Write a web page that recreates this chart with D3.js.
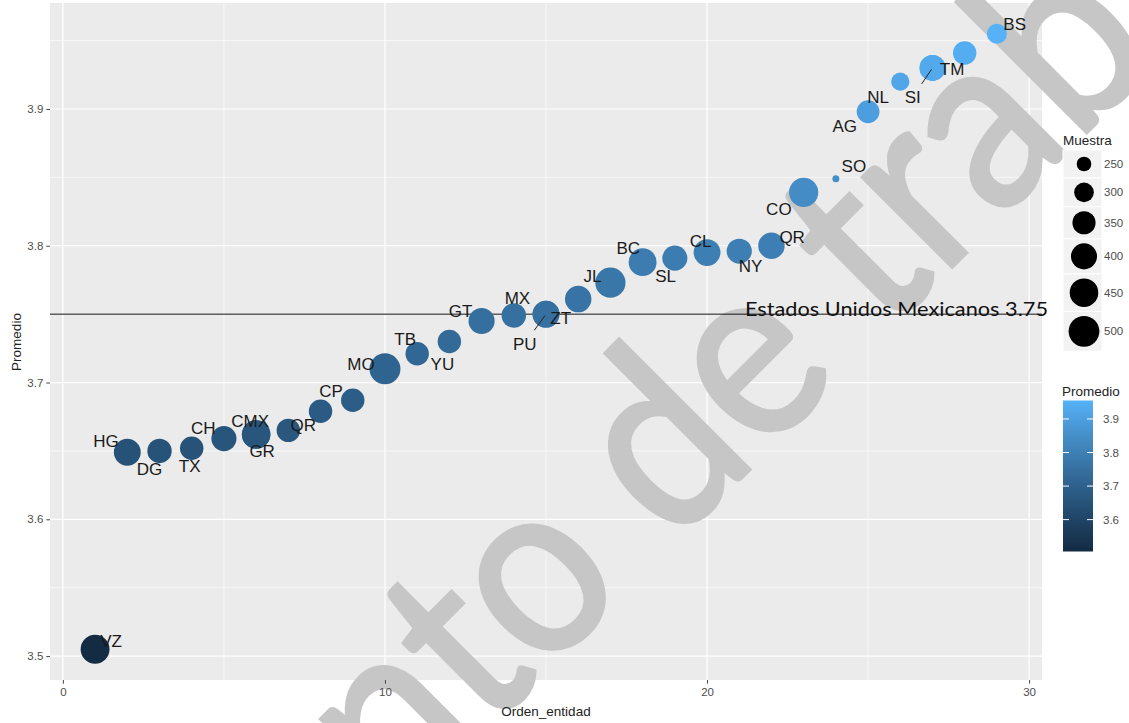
<!DOCTYPE html>
<html>
<head>
<meta charset="utf-8">
<script src="https://cdn.jsdelivr.net/npm/d3@7"></script>
<style>
  html, body { margin: 0; padding: 0; background: #fff; }
  svg { display: block; font-family: "Liberation Sans", Arial, sans-serif; }
</style>
</head>
<body>
<svg id="chart" width="1129" height="723"></svg>
<script>
// ─── Data ─────────────────────────────────────────────────────────────────────

const ORDEN    = [1, 2, 3, 4, 5, 6, 6, 7, 8, 9, 10, 11, 12, 13, 14, 15, 15, 16,
                  17, 18, 19, 20, 21, 22, 23, 24, 25, 26, 27, 27, 28, 29];
const ENTIDAD  = ["VZ", "HG", "DG", "TX", "CH", "CMX", "GR", "QR", "CP", null, "MO", "TB",
                  "YU", "GT", "MX", "PU", "ZT", null, "JL", "BC", "SL", "CL", "NY", "QR",
                  "CO", "SO", "AG", "NL", "SI", "TM", null, "BS"];
const PROMEDIO = [3.505, 3.649, 3.650, 3.652, 3.659, 3.662, 3.662, 3.665, 3.679, 3.687,
                  3.710, 3.721, 3.730, 3.745, 3.749, 3.750, 3.750, 3.761, 3.773, 3.788,
                  3.791, 3.795, 3.796, 3.800, 3.839, 3.849, 3.898, 3.920, 3.930, 3.930,
                  3.941, 3.955];
const MUESTRA  = [457, 415, 371, 354, 383, 449, 449, 354, 354, 354, 505, 354, 354, 402,
                  371, 415, 415, 408, 486, 436, 383, 415, 383, 408, 464, 221, 344, 284,
                  396, 396, 354, 305];

const X_TICKS      = [0, 10, 20, 30];
const Y_TICKS      = [3.5, 3.6, 3.7, 3.8, 3.9];
const SIZE_BREAKS  = [250, 300, 350, 400, 450, 500];
const COLOR_BREAKS = [3.6, 3.7, 3.8, 3.9];

const REF_VALUE = 3.75;
const REF_LABEL = "Estados Unidos Mexicanos 3.75";
const WATERMARK = "Documento de trabajo";

// label placement (px offsets from the point centre, like ggrepel left them)
const NUDGE = [
  [16, -8.5], [-21.3, -11], [-10, 17.6], [-2, 17.3], [-20.6, -10.4], [-6, -13.3], [6, 16],
  [15, -5.3], [10.4, -20], null, [-24, -5], [-12, -15], [-7, 22], [-21, -10.3], [3.6, -17.7],
  [-21.3, 29.4], [14.7, 4], null, [-18, -7.3], [-14.3, -14.4], [-9.2, 17.7], [-6.4, -12],
  [11.4, 15], [20.7, -8.7], [-24.8, 16.3], [18, -12.6], [-23.3, 14.4], [-22.2, 15],
  [-19.7, 29], [19.6, 1], null, [17.8, -10],
];

// ─── Layout ───────────────────────────────────────────────────────────────────

const W = 1129, H = 723;
const P = { left: 50, right: 1042, top: 3, bottom: 680 };

const expand = ([a, b], f = 0.05) => [a - (b - a) * f, b + (b - a) * f];

const xExt = d3.extent(ORDEN);
const yExt = d3.extent(PROMEDIO);
const x = d3.scaleLinear().domain(expand(xExt)).range([P.left, P.right]);
const y = d3.scaleLinear().domain(expand(yExt)).range([P.bottom, P.top]);

// ggplot-like area palette: diameter grows with sqrt of the rescaled value
const sizeT = d3.scaleLinear().domain(d3.extent(MUESTRA)).range([0, 1]);
const diam  = v => 7 + 24 * Math.sqrt(Math.max(0, sizeT(v)));

const color = d3.scaleLinear().domain(yExt)
  .range(["#132B43", "#56B1F7"]).interpolate(d3.interpolateLab);

const svg = d3.select("#chart");

svg.append("rect").attr("width", W).attr("height", H).attr("fill", "#fff");

// ─── Panel + grid ─────────────────────────────────────────────────────────────

svg.append("rect")
  .attr("x", P.left).attr("y", P.top)
  .attr("width", P.right - P.left).attr("height", P.bottom - P.top)
  .attr("fill", "#ebebeb");

const xMinor = X_TICKS.slice(0, -1).map(v => v + 5);
const yMinor = Y_TICKS.map(v => v + 0.05);

const grid = svg.append("g");
grid.selectAll(".xm").data(xMinor).join("line")
  .attr("x1", d => x(d)).attr("x2", d => x(d)).attr("y1", P.top).attr("y2", P.bottom)
  .attr("stroke", "#fff").attr("stroke-width", 0.6);
grid.selectAll(".ym").data(yMinor).join("line")
  .attr("y1", d => y(d)).attr("y2", d => y(d)).attr("x1", P.left).attr("x2", P.right)
  .attr("stroke", "#fff").attr("stroke-width", 0.6);
grid.selectAll(".xM").data(X_TICKS).join("line")
  .attr("x1", d => x(d)).attr("x2", d => x(d)).attr("y1", P.top).attr("y2", P.bottom)
  .attr("stroke", "#fff").attr("stroke-width", 1.2);
grid.selectAll(".yM").data(Y_TICKS).join("line")
  .attr("y1", d => y(d)).attr("y2", d => y(d)).attr("x1", P.left).attr("x2", P.right)
  .attr("stroke", "#fff").attr("stroke-width", 1.2);

// ─── Watermark ────────────────────────────────────────────────────────────────

svg.append("text")
  .attr("transform", "translate(592,627) rotate(-45)")
  .attr("text-anchor", "middle")
  .attr("font-family", "Lato, 'Open Sans', sans-serif")
  .attr("font-size", 250)
  .attr("textLength", 2200)
  .attr("lengthAdjust", "spacingAndGlyphs")
  .attr("fill", "#c6c6c6")
  .attr("stroke", "#c6c6c6").attr("stroke-width", 4)
  .text(WATERMARK);

// ─── Reference line ───────────────────────────────────────────────────────────

svg.append("line")
  .attr("x1", P.left).attr("x2", P.right)
  .attr("y1", y(REF_VALUE)).attr("y2", y(REF_VALUE))
  .attr("stroke", "#111").attr("stroke-width", 1);

// ─── Points ───────────────────────────────────────────────────────────────────

const rows = ORDEN.map((o, i) => ({
  orden: o, entidad: ENTIDAD[i], promedio: PROMEDIO[i], muestra: MUESTRA[i], nudge: NUDGE[i],
}));

svg.append("g").selectAll("circle").data(rows).join("circle")
  .attr("cx", d => x(d.orden))
  .attr("cy", d => y(d.promedio))
  .attr("r", d => diam(d.muestra) / 2)
  .attr("fill", d => color(d.promedio));

// ─── Labels ───────────────────────────────────────────────────────────────────

const labelled = rows.filter(d => d.entidad && d.nudge);

svg.append("g").selectAll("line").data(labelled.filter(d => Math.abs(d.nudge[1]) > 25)).join("line")
  .attr("x1", d => x(d.orden) + d.nudge[0] * 0.05)
  .attr("y1", d => y(d.promedio) + d.nudge[1] * 0.05)
  .attr("x2", d => x(d.orden) + d.nudge[0] * 0.55)
  .attr("y2", d => y(d.promedio) + d.nudge[1] * 0.55)
  .attr("stroke", "#222").attr("stroke-width", 1);

svg.append("g").selectAll("text").data(labelled).join("text")
  .attr("x", d => x(d.orden) + d.nudge[0])
  .attr("y", d => y(d.promedio) + d.nudge[1])
  .attr("dy", "0.36em")
  .attr("text-anchor", "middle")
  .attr("font-size", 17)
  .attr("fill", "#1a1a1a")
  .text(d => d.entidad);

svg.append("text")
  .attr("x", 745).attr("y", y(REF_VALUE) + 1.5)
  .attr("font-family", "Lato, 'Open Sans', sans-serif")
  .attr("font-size", 20)
  .attr("textLength", 303)
  .attr("lengthAdjust", "spacingAndGlyphs")
  .attr("fill", "#111")
  .text(REF_LABEL);

// ─── Axes ─────────────────────────────────────────────────────────────────────

function styleAxis(g) {
  g.select(".domain").remove();
  g.selectAll("line").attr("stroke", "#444");
  g.selectAll("text").attr("font-size", 11.5).attr("fill", "#4d4d4d")
    .attr("font-family", "'Liberation Sans', Arial, sans-serif");
}

svg.append("g")
  .attr("transform", `translate(0,${P.bottom})`)
  .call(d3.axisBottom(x).tickValues(X_TICKS).tickSize(3.7).tickPadding(4).tickFormat(d3.format("d")))
  .call(styleAxis);

svg.append("g")
  .attr("transform", `translate(${P.left},0)`)
  .call(d3.axisLeft(y).tickValues(Y_TICKS).tickSize(3.7).tickPadding(3).tickFormat(d3.format(".1f")))
  .call(styleAxis);

svg.append("text")
  .attr("x", (P.left + P.right) / 2).attr("y", 716)
  .attr("text-anchor", "middle").attr("font-size", 13.5).attr("fill", "#222")
  .text("Orden_entidad");

svg.append("text")
  .attr("transform", "translate(20.5,342) rotate(-90)")
  .attr("text-anchor", "middle").attr("font-size", 13.5).attr("fill", "#222")
  .text("Promedio");

// ─── Legend: Muestra ──────────────────────────────────────────────────────────

const LX = 1063, KEY_W = 39;

svg.append("text")
  .attr("x", LX).attr("y", 145)
  .attr("font-size", 13.5).attr("fill", "#222")
  .text("Muestra");

const keys = [];
let ky = 150;
SIZE_BREAKS.forEach(v => {
  const h = Math.max(28, diam(v) + 9);
  keys.push({ v, top: ky, h });
  ky += h;
});

const keyG = svg.append("g").selectAll("g").data(keys).join("g");
keyG.append("rect")
  .attr("x", LX).attr("y", d => d.top).attr("width", KEY_W).attr("height", d => d.h)
  .attr("fill", "#f2f2f2").attr("stroke", "#fff").attr("stroke-width", 1);
keyG.append("circle")
  .attr("cx", LX + 21).attr("cy", d => d.top + d.h / 2)
  .attr("r", d => diam(d.v) / 2).attr("fill", "#000");
keyG.append("text")
  .attr("x", LX + KEY_W + 2).attr("y", d => d.top + d.h / 2).attr("dy", "0.36em")
  .attr("font-size", 11.5).attr("fill", "#4d4d4d")
  .text(d => d.v);

// ─── Legend: Promedio colourbar ───────────────────────────────────────────────

const CB = { x: 1063, w: 30, top: 400.5, bottom: 551.5 };
const cbY = d3.scaleLinear().domain(yExt).range([CB.bottom, CB.top]);

svg.append("text")
  .attr("x", LX - 1).attr("y", 396)
  .attr("font-size", 13.5).attr("fill", "#222")
  .text("Promedio");

const grad = svg.append("defs").append("linearGradient")
  .attr("id", "cb-grad").attr("x1", 0).attr("y1", 1).attr("x2", 0).attr("y2", 0);
d3.range(21).forEach(i => {
  grad.append("stop")
    .attr("offset", `${i * 5}%`)
    .attr("stop-color", color(yExt[0] + (i / 20) * (yExt[1] - yExt[0])));
});

svg.append("rect")
  .attr("x", CB.x).attr("y", CB.top).attr("width", CB.w).attr("height", CB.bottom - CB.top)
  .attr("fill", "url(#cb-grad)");

const cbTicks = svg.append("g").selectAll("g").data(COLOR_BREAKS).join("g");
cbTicks.append("line")
  .attr("x1", CB.x).attr("x2", CB.x + 6).attr("y1", d => cbY(d)).attr("y2", d => cbY(d))
  .attr("stroke", "#fff").attr("stroke-width", 1);
cbTicks.append("line")
  .attr("x1", CB.x + CB.w - 6).attr("x2", CB.x + CB.w).attr("y1", d => cbY(d)).attr("y2", d => cbY(d))
  .attr("stroke", "#fff").attr("stroke-width", 1);
cbTicks.append("text")
  .attr("x", LX + KEY_W + 1).attr("y", d => cbY(d)).attr("dy", "0.36em")
  .attr("font-size", 11.5).attr("fill", "#4d4d4d")
  .text(d => d.toFixed(1));
</script>
</body>
</html>
